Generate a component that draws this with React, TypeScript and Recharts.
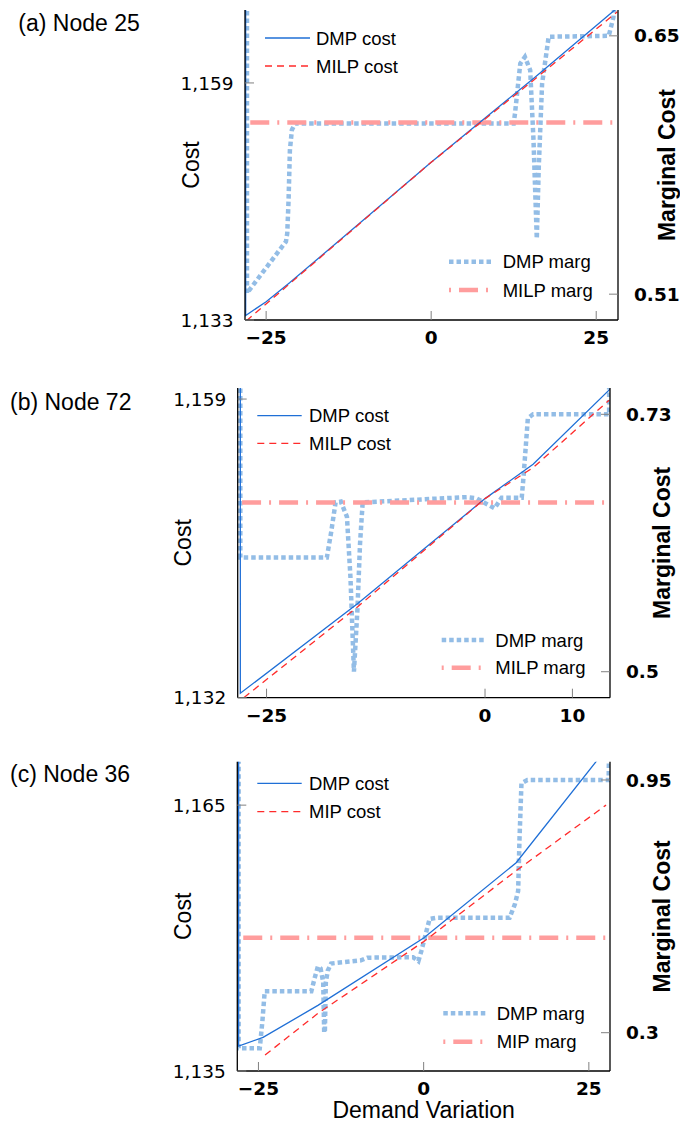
import React from "react";
import { LineChart, Line, XAxis, YAxis } from "recharts";

type Pt = [number, number];

// (a) Node 25 — [demand variation, value]
const node25DmpCost: Pt[] = [[-28.1, 1180], [-28.1, 1133.5], [-25, 1135.0], [-21.4, 1137.1], [0, 1150.3], [15.5, 1159.5], [28.3, 1167.3]];
const node25MilpCost: Pt[] = [[-28.0, 1132.9], [-23.0, 1136.0], [0, 1150.3], [15.5, 1159.3], [28.2, 1166.8]];
const node25DmpMarg: Pt[] = [
  [-27.9, 0.7], [-27.9, 0.5105], [-22.0, 0.5385], [-21.8, 0.543], [-21.6, 0.561], [-21.4, 0.588], [-21.1, 0.599],
  [-20.6, 0.6025], [12.5, 0.6025], [12.7, 0.608], [13.5, 0.635], [14.2, 0.6386], [15.0, 0.6314], [15.5, 0.5935],
  [16.0, 0.54], [16.3, 0.579], [16.8, 0.624], [17.8, 0.6495], [26.9, 0.65], [27.6, 0.66], [28.1, 0.68],
];
const node25MilpMarg: Pt[] = [[-27.4, 0.603], [27.8, 0.603]];

// (b) Node 72
const node72DmpCost: Pt[] = [[-28.0, 1175], [-28.0, 1132.4], [-14.6, 1140.5], [0, 1150.0], [5.5, 1153.1], [14.3, 1159.9]];
const node72MilpCost: Pt[] = [[-27.6, 1132.0], [-14.6, 1140.2], [0, 1150.0], [5.5, 1152.8], [14.2, 1158.9]];
const node72DmpMarg: Pt[] = [
  [-28.0, 0.8], [-28.0, 0.602], [-18.1, 0.602], [-17.6, 0.625], [-17.1, 0.6513], [-16.5, 0.652], [-15.8, 0.6385],
  [-15.4, 0.5847], [-15.0, 0.5], [-14.6, 0.5555], [-14.3, 0.6147], [-14.0, 0.6513], [-2.1, 0.656], [-1.0, 0.655],
  [1.1, 0.646], [1.9, 0.6555], [4.2, 0.6555], [4.4, 0.6736], [4.9, 0.7264], [5.5, 0.73], [14.2, 0.73], [14.2, 0.8],
];
const node72MilpMarg: Pt[] = [[-27.8, 0.6513], [13.7, 0.6513]];

// (c) Node 36
const node36DmpCost: Pt[] = [[-28.0, 1185], [-28.0, 1137.8], [-24.3, 1138.8], [-16.0, 1142.4], [0, 1150.0], [14.0, 1158.5], [28.2, 1171.9]];
const node36MipCost: Pt[] = [[-24.0, 1136.8], [-16.0, 1141.5], [0, 1149.6], [14.0, 1157.6], [27.6, 1165.0]];
const node36DmpMarg: Pt[] = [
  [-28.0, 1.1], [-28.0, 0.26], [-24.8, 0.26], [-24.4, 0.33], [-24.05, 0.4064], [-17.0, 0.4064], [-16.5, 0.44],
  [-16.0, 0.4707], [-15.6, 0.465], [-15.2, 0.43], [-15.05, 0.3], [-14.95, 0.3], [-14.8, 0.43], [-14.5, 0.46], [-14.0, 0.478],
  [-9.5, 0.486], [-8.5, 0.493], [-1.6, 0.494], [-0.8, 0.484], [-0.35, 0.51], [0.9, 0.5925], [1.9, 0.5954],
  [13.0, 0.5955], [13.8, 0.63], [14.3, 0.6646], [14.5, 0.795], [14.8, 0.9414], [15.7, 0.95], [28.0, 0.95], [28.1, 1.1],
];
const node36MipMarg: Pt[] = [[-27.3, 0.5444], [27.6, 0.5444]];

const C = { dmpCost: "#1f6fd6", milpCost: "#ff2b2b", dmpMarg: "#93bde6", milpMarg: "#ff9d9d" };
const DASH = { milpCost: "7 5", dmpMarg: "4.5 3", milpMarg: "19 8 2 8" };

const rows = (pts: Pt[]) => pts.map(([x, y]) => ({ x, y }));
const fmtX = (v: number) => (v < 0 ? `\u2212${Math.abs(v)}` : `${v}`);
const fmtCost = (v: number) => v.toLocaleString("en-US");

const AXIS = { stroke: "#000", strokeWidth: 1.3 };
const TICKLINE = { stroke: "#808080", strokeWidth: 1 };
const tickRegular = { fontFamily: "DejaVu Sans", fontSize: 18.5, fill: "#000" };
const tickBold = { ...tickRegular, fontWeight: "bold" };

const sideTitle = (text: string, side: "left" | "right", dist: number, bold: boolean) => (props: any) => {
  const vb = props.viewBox || {};
  const cx = side === "left" ? vb.x + vb.width - dist : vb.x + dist;
  const cy = vb.y + vb.height / 2;
  return (
    <text x={cx} y={cy} transform={`rotate(-90 ${cx} ${cy})`} textAnchor="middle" dominantBaseline="central"
      fontFamily="Liberation Sans" fontSize={23} fontWeight={bold ? "bold" : "normal"} fill="#000">{text}</text>
  );
};

const bottomTitle = (text: string, dist: number) => (props: any) => {
  const vb = props.viewBox || {};
  return (
    <text x={vb.x + vb.width / 2} y={vb.y + dist} textAnchor="middle" fontFamily="Liberation Sans" fontSize={23} fill="#000">{text}</text>
  );
};

type PanelProps = {
  top: number; height: number; margin: { top: number; right: number; bottom: number; left: number };
  xAxisHeight: number; xDomain: [number, number]; xTicks: number[];
  costDomain: [number, number]; costTicks: number[]; margDomain: [number, number]; margTicks: number[];
  dmpCost: Pt[]; milpCost: Pt[]; dmpMarg: Pt[]; milpMarg: Pt[];
  costDist: number; margDist: number; xLabel?: string;
};

const Panel = (p: PanelProps) => (
  <div style={{ position: "absolute", left: 0, top: p.top, fontFamily: "'DejaVu Sans'" }}>
    <LineChart width={680} height={p.height} margin={p.margin}>
      <XAxis type="number" dataKey="x" domain={p.xDomain} allowDataOverflow ticks={p.xTicks} interval={0}
        tickFormatter={fmtX} axisLine={AXIS} tickLine={TICKLINE} tickSize={-9} tickMargin={20}
        tick={tickBold} height={p.xAxisHeight} label={p.xLabel ? bottomTitle(p.xLabel, 46.5) : undefined} />
      <YAxis yAxisId="cost" orientation="left" type="number" domain={p.costDomain} allowDataOverflow ticks={p.costTicks}
        interval={0} tickFormatter={fmtCost} axisLine={AXIS} tickLine={TICKLINE} tickSize={-9} tickMargin={20.5}
        tick={tickRegular} width={60} label={sideTitle("Cost", "left", p.costDist, false)} />
      <YAxis yAxisId="marg" orientation="right" type="number" domain={p.margDomain} allowDataOverflow ticks={p.margTicks}
        interval={0} tickFormatter={(v: number) => `${v}`} axisLine={AXIS} tickLine={TICKLINE} tickSize={-9} tickMargin={25}
        tick={tickBold} width={60} label={sideTitle("Marginal Cost", "right", p.margDist, true)} />
      <Line yAxisId="marg" data={rows(p.dmpMarg)} dataKey="y" type="linear" stroke={C.dmpMarg} strokeWidth={4.5}
        strokeDasharray={DASH.dmpMarg} dot={false} isAnimationActive={false} />
      <Line yAxisId="marg" data={rows(p.milpMarg)} dataKey="y" type="linear" stroke={C.milpMarg} strokeWidth={4.5}
        strokeDasharray={DASH.milpMarg} dot={false} isAnimationActive={false} />
      <Line yAxisId="cost" data={rows(p.dmpCost)} dataKey="y" type="linear" stroke={C.dmpCost} strokeWidth={1.3}
        dot={false} isAnimationActive={false} />
      <Line yAxisId="cost" data={rows(p.milpCost)} dataKey="y" type="linear" stroke={C.milpCost} strokeWidth={1.3}
        strokeDasharray={DASH.milpCost} dot={false} isAnimationActive={false} />
    </LineChart>
  </div>
);

type LegendItem = { label: string; color: string; width: number; dash?: string };

const LegendGroup = ({ x0, x1, tx, ys, items }: { x0: number; x1: number; tx: number; ys: number[]; items: LegendItem[] }) => (
  <g>
    {items.map((it, i) => (
      <g key={it.label}>
        <line x1={x0} x2={x1} y1={ys[i]} y2={ys[i]} stroke={it.color} strokeWidth={it.width} strokeDasharray={it.dash} />
        <text x={tx} y={ys[i]} dominantBaseline="central" fontFamily="Liberation Sans" fontSize={18.5} fill="#000">{it.label}</text>
      </g>
    ))}
  </g>
);

const costItems = (mip: string): LegendItem[] => [
  { label: "DMP cost", color: C.dmpCost, width: 1.3 },
  { label: `${mip} cost`, color: C.milpCost, width: 1.3, dash: DASH.milpCost },
];
const margItems = (mip: string): LegendItem[] => [
  { label: "DMP marg", color: C.dmpMarg, width: 4.5, dash: DASH.dmpMarg },
  { label: `${mip} marg`, color: C.milpMarg, width: 4.5, dash: "2 8 19 8" },
];

const Title = ({ x, y, text }: { x: number; y: number; text: string }) => (
  <text x={x} y={y} dominantBaseline="central" fontFamily="Liberation Sans" fontSize={23} fill="#000">{text}</text>
);

export default function App() {
  return (
    <div style={{ position: "absolute", left: 0, top: 0, width: 680, height: 1122, overflow: "hidden", background: "#fff" }}>
      <Panel top={0} height={360} margin={{ top: 10, right: 2, bottom: 0, left: 185 }} xAxisHeight={40}
        xDomain={[-28.2, 28.3]} xTicks={[-25, 0, 25]} costDomain={[1133, 1167]} costTicks={[1133, 1159]}
        margDomain={[0.496, 0.664]} margTicks={[0.51, 0.65]}
        dmpCost={node25DmpCost} milpCost={node25MilpCost} dmpMarg={node25DmpMarg} milpMarg={node25MilpMarg}
        costDist={54.5} margDist={48.7} />
      <Panel top={370} height={368} margin={{ top: 18, right: 10, bottom: 0, left: 177.7 }} xAxisHeight={40.3}
        xDomain={[-28.3, 14.3]} xTicks={[-25, 0, 10]} costDomain={[1132, 1160]} costTicks={[1132, 1159]}
        margDomain={[0.4768, 0.7535]} margTicks={[0.5, 0.73]}
        dmpCost={node72DmpCost} milpCost={node72MilpCost} dmpMarg={node72DmpMarg} milpMarg={node72MilpMarg}
        costDist={54.7} margDist={52} />
      <Panel top={740} height={382} margin={{ top: 21.7, right: 10, bottom: 0, left: 177.3 }} xAxisHeight={51}
        xDomain={[-28.2, 28.2]} xTicks={[-25, 0, 25]} costDomain={[1135, 1169.9]} costTicks={[1135, 1165]}
        margDomain={[0.2015, 0.997]} margTicks={[0.3, 0.95]}
        dmpCost={node36DmpCost} milpCost={node36MipCost} dmpMarg={node36DmpMarg} milpMarg={node36MipMarg}
        costDist={54} margDist={52} xLabel="Demand Variation" />
      <svg width={680} height={1122} style={{ position: "absolute", left: 0, top: 0, pointerEvents: "none" }}>
        <Title x={18.3} y={23} text="(a) Node 25" />
        <Title x={10} y={402} text="(b) Node 72" />
        <Title x={10} y={774} text="(c) Node 36" />
        <LegendGroup x0={265} x1={310} tx={316} ys={[38, 66]} items={costItems("MILP")} />
        <LegendGroup x0={449} x1={493} tx={502.7} ys={[261.7, 290]} items={margItems("MILP")} />
        <LegendGroup x0={257.3} x1={301.7} tx={309} ys={[415.7, 443.3]} items={costItems("MILP")} />
        <LegendGroup x0={441.7} x1={486} tx={495.3} ys={[640, 667.7]} items={margItems("MILP")} />
        <LegendGroup x0={257.3} x1={301.7} tx={309} ys={[783.3, 811.7]} items={costItems("MIP")} />
        <LegendGroup x0={443.3} x1={488.3} tx={496.7} ys={[1013.3, 1041.7]} items={margItems("MIP")} />
      </svg>
    </div>
  );
}
